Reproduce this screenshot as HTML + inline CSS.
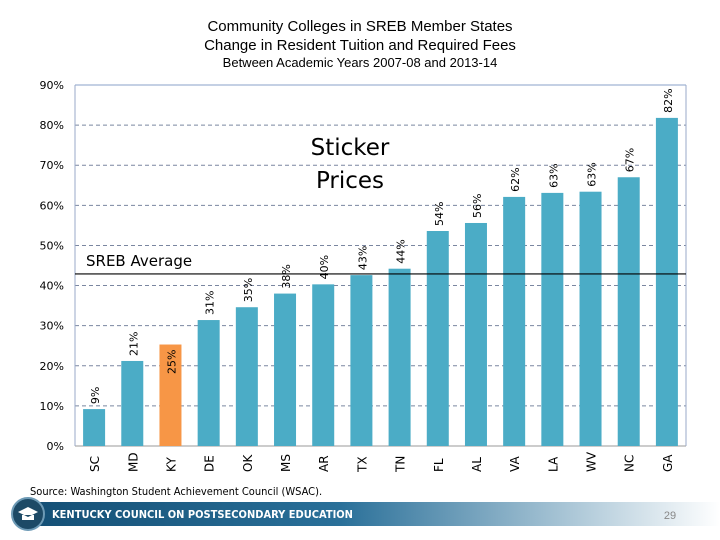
<!DOCTYPE html>
<html><head><meta charset="utf-8"><style>
body{margin:0;width:720px;height:540px;background:#fff;overflow:hidden;font-family:"Liberation Sans",sans-serif}
svg{display:block}
</style></head><body>
<svg width="720" height="540">
<text x="360" y="31" text-anchor="middle" font-size="15" font-family="Liberation Sans">Community Colleges in SREB Member States</text>
<text x="360" y="50" text-anchor="middle" font-size="15" font-family="Liberation Sans">Change in Resident Tuition and Required Fees</text>
<text x="360" y="67" text-anchor="middle" font-size="13" font-family="Liberation Sans">Between Academic Years 2007-08 and 2013-14</text>
<g id="grid"></g>
<g id="bars"></g>
<text x="350" y="155" text-anchor="middle" font-size="23" font-family="DejaVu Sans">Sticker</text>
<text x="350" y="188" text-anchor="middle" font-size="23" font-family="DejaVu Sans">Prices</text>
<text x="86" y="266" font-size="15" font-family="DejaVu Sans">SREB Average</text>
<text x="30" y="495" font-size="11" font-family="DejaVu Sans Condensed, Liberation Sans">Source: Washington Student Achievement Council (WSAC).</text>
<defs><linearGradient id="bg" x1="0" x2="1"><stop offset="0" stop-color="#144f75"/><stop offset="0.45" stop-color="#2a7099"/><stop offset="1" stop-color="#ffffff"/></linearGradient></defs>
<rect x="30" y="502" width="690" height="24" fill="url(#bg)"/>
<circle cx="28" cy="514" r="16" fill="#1d4a66" stroke="#6d9ab5" stroke-width="2"/>
<path d="M18 512 L28 507 L38 512 L28 517 Z M22 515 V520 H34 V515" fill="#fff"/>
<text x="52" y="518" font-size="11" font-weight="bold" fill="#fff" font-family="DejaVu Sans Condensed, Liberation Sans">KENTUCKY COUNCIL ON POSTSECONDARY EDUCATION</text>
<text x="670" y="519" font-size="11" fill="#888" text-anchor="middle">29</text>
</svg>
<script>
const states=["SC","MD","KY","DE","OK","MS","AR","TX","TN","FL","AL","VA","LA","WV","NC","GA"];
const values=[9.2,21.2,25.3,31.4,34.6,38.0,40.3,42.6,44.2,53.6,55.6,62.1,63.1,63.4,67.0,81.8];
const labels=["9%","21%","25%","31%","35%","38%","40%","43%","44%","54%","56%","62%","63%","63%","67%","82%"];
const ticks=[0,10,20,30,40,50,60,70,80,90];
const srebAverage=42.9;
const highlight="KY";
const NS="http://www.w3.org/2000/svg";
const x0=75,x1=686,y0=446,yTop=85;
const slot=(x1-x0)/states.length;
const y=v=>y0-(v/90)*(y0-yTop);
const xc=i=>x0+slot*(i+0.5);
function mk(t,a,p){const e=document.createElementNS(NS,t);for(const k in a)e.setAttribute(k,a[k]);p.appendChild(e);return e;}
const grid=document.getElementById('grid'),bars=document.getElementById('bars');
ticks.forEach(t=>{
 const l=mk('line',{x1:x0,x2:x1,y1:y(t),y2:y(t),stroke:t===90?'#8aa0c8':(t===0?'#999':'#7a86a0'),'stroke-dasharray':(t===0||t===90)?'':'4,3','stroke-width':1},grid);
 
 
 const tx=mk('text',{x:64,y:y(t)+4,'text-anchor':'end','font-size':11,'font-family':'DejaVu Sans'},grid);
 tx.textContent=t+'%';
 
 
});
const ax=mk('line',{x1:x0,x2:x0,y1:yTop,y2:y0,stroke:'#9aaac8'},grid);


const rb=mk('line',{x1:x1,x2:x1,y1:yTop,y2:y0,stroke:'#9aaac8'},grid);


states.forEach((s,i)=>{
 const bw=22,v=values[i];
 const r=mk('rect',{x:xc(i)-bw/2,y:y(v),width:bw,height:y0-y(v),fill:s===highlight?'#f79646':'#4bacc6'},bars);
 
 
 const inside=s===highlight;
 const lt=mk('text',{transform:`translate(${xc(i)+5},${inside?y(v)+5:y(v)-5}) rotate(-90)`,'text-anchor':inside?'end':'start','font-size':11,'font-family':'DejaVu Sans'},bars);
 lt.textContent=labels[i];
 
 
 const st=mk('text',{transform:`translate(${xc(i)+5},${y0+26}) rotate(-90)`,'font-size':12,'font-family':'DejaVu Sans'},bars);
 st.textContent=s;
 
 
});
const al=mk('line',{x1:x0,x2:x1,y1:y(srebAverage),y2:y(srebAverage),stroke:'#000','stroke-width':1.2},bars);


</script>
</body></html>
